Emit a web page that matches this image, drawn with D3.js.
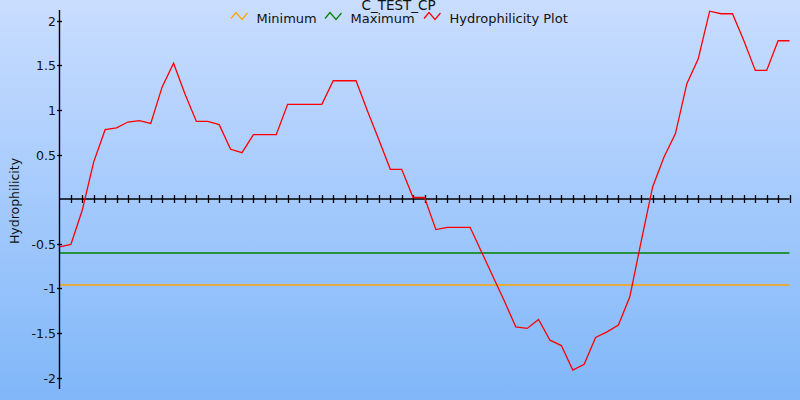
<!DOCTYPE html>
<html>
<head>
<meta charset="utf-8">
<script src="https://cdn.jsdelivr.net/npm/d3@7"></script>
<style>
  html, body { margin: 0; padding: 0; background: #fff; }
  svg { display: block; font-family: "DejaVu Sans", Verdana, sans-serif; }
</style>
</head>
<body>
<svg id="chart" width="800" height="400"></svg>
<script>
// ---- data ----
const chartTitle = "C_TEST_CP";
const yAxisTitle = "Hydrophilicity";
const legendLabels = ["Minimum", "Maximum", "Hydrophilicity Plot"];
const positions = d3.range(0, 65);
const hydrophilicity = [
  -0.534, -0.507, -0.12, 0.42, 0.78, 0.80, 0.866, 0.881, 0.851, 1.26,
  1.526, 1.18, 0.873, 0.873, 0.837, 0.56, 0.523, 0.725, 0.725, 0.725,
  1.064, 1.064, 1.064, 1.064, 1.329, 1.329, 1.329, 0.99, 0.668, 0.336,
  0.336, 0.02, 0.02, -0.34, -0.314, -0.314, -0.314, -0.59, -0.866, -1.14,
  -1.43, -1.448, -1.347, -1.58, -1.64, -1.915, -1.85, -1.55, -1.486, -1.41,
  -1.094, -0.47, 0.138, 0.474, 0.736, 1.296, 1.576, 2.109, 2.08, 2.08,
  1.777, 1.445, 1.445, 1.777, 1.777
];
const minimumValue = -0.96;
const maximumValue = -0.60;
const yTickValues = [-2, -1.5, -1, -0.5, 0.5, 1, 1.5, 2];
const yTickLabels = ["-2", "-1.5", "-1", "-0.5", "0.5", "1", "1.5", "2"];

// ---- layout ----
const W = 800, H = 400;
const svg = d3.select("#chart");

const defs = svg.append("defs");
const grad = defs.append("linearGradient").attr("id", "bg")
  .attr("x1", 0).attr("y1", 0).attr("x2", 0).attr("y2", 1);
grad.append("stop").attr("offset", "0%").attr("stop-color", "#c9ddff");
grad.append("stop").attr("offset", "100%").attr("stop-color", "#80b7f9");
svg.append("rect").attr("width", W).attr("height", H).attr("fill", "url(#bg)");

const x = d3.scaleLinear().domain([0, 64]).range([59.5, 789.5]);
const y = d3.scaleLinear().domain([-2.127, 2.122]).range([389, 10]);

// min / max lines
const yMax = Math.round(y(maximumValue));
const yMin = Math.round(y(minimumValue));
svg.append("line")
  .attr("x1", x(0)).attr("x2", x(64)).attr("y1", yMax).attr("y2", yMax)
  .attr("stroke", "#008000").attr("stroke-width", 1.6);
svg.append("line")
  .attr("x1", x(0)).attr("x2", x(64)).attr("y1", yMin).attr("y2", yMin)
  .attr("stroke", "#ffa500").attr("stroke-width", 1.6);

// x axis at zero
const y0 = Math.round(y(0));
svg.append("line").attr("x1", x(0)).attr("x2", x(64)).attr("y1", y0).attr("y2", y0)
  .attr("stroke", "#000").attr("stroke-width", 1.5);
svg.append("g").selectAll("line").data(positions.slice(1)).join("line")
  .attr("x1", d => Math.round(x(d)) + 0.5).attr("x2", d => Math.round(x(d)) + 0.5)
  .attr("y1", y0 - 4).attr("y2", y0 + 4)
  .attr("stroke", "#000").attr("stroke-width", 1.3);

// y axis
svg.append("line").attr("x1", 59.5).attr("x2", 59.5).attr("y1", y.range()[1]).attr("y2", y.range()[0])
  .attr("stroke", "#000").attr("stroke-width", 1.4);
const yt = svg.append("g").selectAll("g").data(yTickValues).join("g")
  .attr("transform", d => `translate(0,${Math.round(y(d)) + 0.5})`);
yt.append("line").attr("x1", 57).attr("x2", 62).attr("stroke", "#000").attr("stroke-width", 1.3);
yt.append("text").attr("x", 56).attr("y", 4.5).attr("text-anchor", "end")
  .attr("font-size", 12.5).attr("fill", "#111")
  .text((d, i) => yTickLabels[i]);

// y axis title
svg.append("text").attr("transform", "translate(19,201) rotate(-90)")
  .attr("text-anchor", "middle").attr("font-size", 12.5).attr("fill", "#111")
  .text(yAxisTitle);

// data line
const line = d3.line().x((d, i) => x(positions[i])).y(d => y(d));
svg.append("path").datum(hydrophilicity)
  .attr("d", line).attr("fill", "none").attr("stroke", "#ff0000").attr("stroke-width", 1.3);

// title
svg.append("text").attr("x", 398.5).attr("y", 10).attr("text-anchor", "middle")
  .attr("font-size", 13.5).attr("fill", "#111").text(chartTitle);

// legend
const legendColors = ["#ffa500", "#008000", "#ff0000"];
const legendIconX = [231, 325, 424];
const legendTextX = [256.5, 350.5, 449.5];
const icon = d3.line();
legendLabels.forEach((lab, i) => {
  const g = svg.append("g").attr("transform", `translate(${legendIconX[i]},12)`);
  g.append("path").attr("d", icon([[0, 6.5], [5, 0.5], [11, 7.5], [16.5, 1]]))
    .attr("fill", "none").attr("stroke", legendColors[i]).attr("stroke-width", 1.2);
  svg.append("text").attr("x", legendTextX[i]).attr("y", 22.5)
    .attr("font-size", 13).attr("fill", "#111").text(lab);
});
</script>
</body>
</html>
